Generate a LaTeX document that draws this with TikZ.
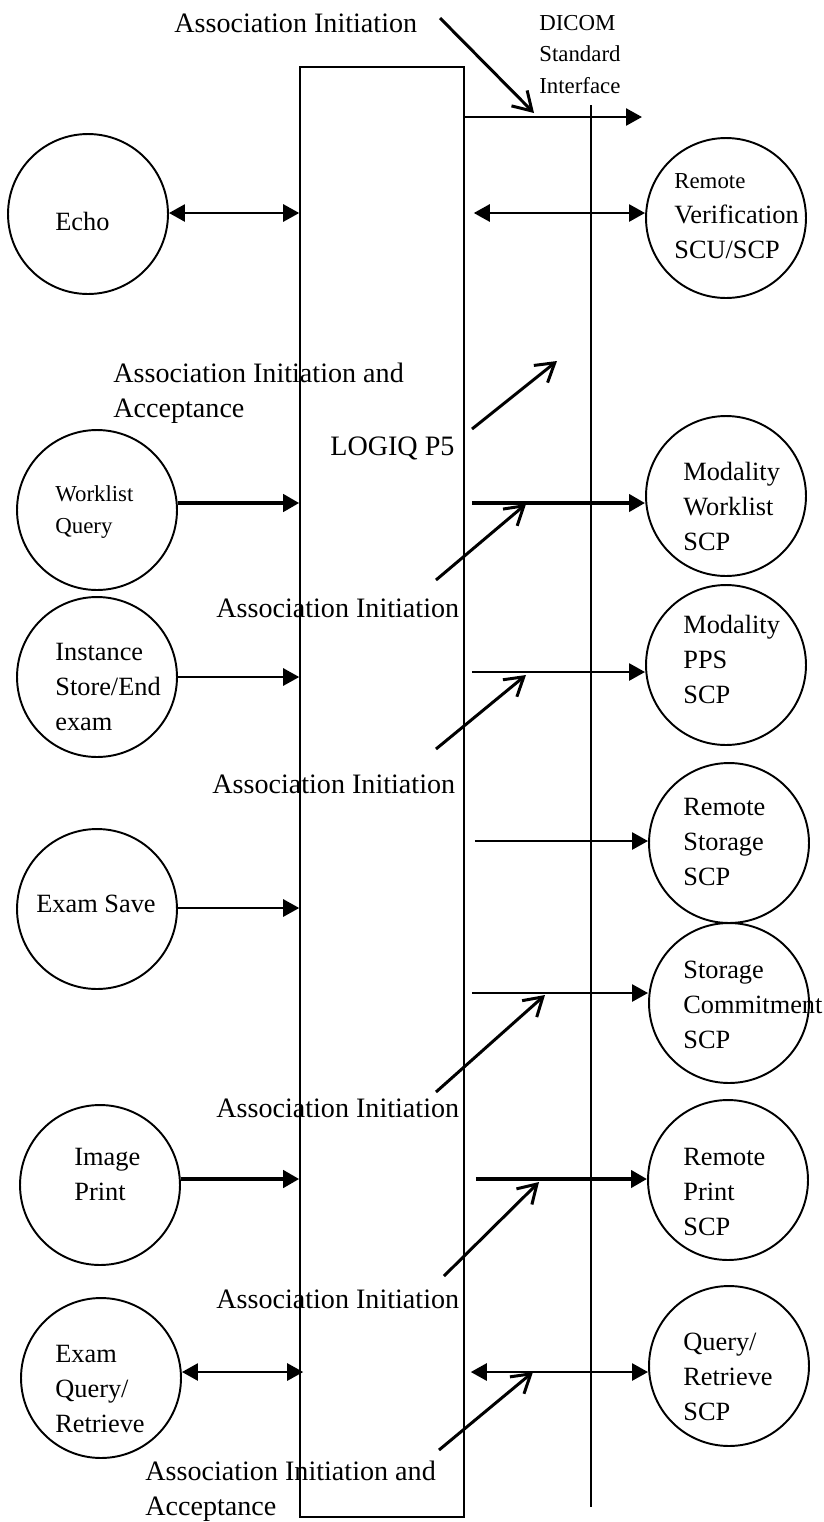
\documentclass[tikz,border=0pt]{standalone}
\usepackage{fontspec}
\setmainfont{Liberation Serif}
\usetikzlibrary{arrows.meta,calc}

\tikzset{
  svc/.style={circle, draw, line width=1.1pt, minimum size=3.2cm, inner sep=0pt},
  lbl/.style={anchor=base west, align=left, inner sep=0pt, font=\fontsize{16}{19.9}\selectfont},
  txt/.style={lbl, font=\fontsize{15}{19.9}\selectfont},
  sml/.style={lbl, font=\fontsize{13}{17.9}\selectfont},
  msg/.style={line width=1.5pt, -{Triangle[length=0.32cm,width=0.34cm]}},
  bigmsg/.style={msg, line width=2.7pt},
  dblmsg/.style={msg, {Triangle[length=0.32cm,width=0.34cm]}-{Triangle[length=0.32cm,width=0.34cm]}},
  init/.style={line width=1.7pt, -{Straight Barb[length=0.36cm,width=0.44cm]}}
}

\begin{document}
\begin{tikzpicture}[x=0.02cm, y=-0.02cm]
    \useasboundingbox (0,0) rectangle (823,1522);
    % the LOGIQ P5 box and the DICOM interface line
    \node[draw, line width=0.9pt, minimum width=3.28cm, minimum height=29cm, inner sep=0pt] (logiq) at (382,792) {};
    \coordinate (ifTop) at (591,105);
    \coordinate (ifBot) at (591,1507);
    \draw[line width=0.9pt] (ifTop) -- (ifBot);

    % labels (placed at the baseline of their last line)
    \node[lbl] (aiTop) at (174,32) {Association Initiation};
    \node[sml] (dicom) at (539,93) {DICOM\\Standard\\Interface};
    \node[lbl] (aiaWl) at (113,417) {Association Initiation and\\Acceptance};
    \node[lbl] (p5) at (330,455) {LOGIQ P5};
    \node[lbl] (aiMwl) at (216,617) {Association Initiation};
    \node[lbl] (aiPps) at (212,793) {Association Initiation};
    \node[lbl] (aiCmt) at (216,1117) {Association Initiation};
    \node[lbl] (aiPrn) at (216,1308) {Association Initiation};
    \node[lbl] (aiaQr) at (145,1515) {Association Initiation and\\Acceptance};

    % local applications
    \node[svc] (echo) at (88,214) {};
    \node[txt] at (55,230) {Echo};
    \node[svc] (wlq) at (97,510) {};
    \node[sml] at (55,533) {Worklist\\Query};
    \node[svc] (ise) at (97,677) {};
    \node[txt] at (55,730) {Instance\\Store/End\\exam};
    \node[svc] (esave) at (97,909) {};
    \node[txt] at (36,912) {Exam Save};
    \node[svc] (iprint) at (100,1185) {};
    \node[txt] at (74,1200) {Image\\Print};
    \node[svc] (eqr) at (101,1378) {};
    \node[txt] at (55,1432) {Exam\\Query/\\Retrieve};

    % remote applications
    \node[svc] (rver) at (726,218) {};
    \node[txt] at (674,258) {{\fontsize{13}{19.9}\selectfont Remote}\\Verification\\SCU/SCP};
    \node[svc] (mwl) at (726,496) {};
    \node[txt] at (683,550) {Modality\\Worklist\\SCP};
    \node[svc] (mpps) at (726,665) {};
    \node[txt] at (683,703) {Modality\\PPS\\SCP};
    \node[svc] (rsto) at (729,843) {};
    \node[txt] at (683,885) {Remote\\Storage\\SCP};
    \node[svc] (scmt) at (729,1003) {};
    \node[txt] at (683,1048) {Storage\\Commitment\\SCP};
    \node[svc] (rprint) at (728,1180) {};
    \node[txt] at (683,1235) {Remote\\Print\\SCP};
    \node[svc] (qr) at (729,1366) {};
    \node[txt] at (683,1420) {Query/\\Retrieve\\SCP};

    % rows of the messages
    \coordinate (rowTop) at (591,117);
    \coordinate (topEnd) at (642,117);
    \coordinate (rowEcho) at (591,213);
    \coordinate (rowWl) at (591,503);
    \coordinate (rowIse) at (591,677);
    \coordinate (rowPps) at (591,672);
    \coordinate (rowSto) at (591,841);
    \coordinate (rowSave) at (591,908);
    \coordinate (rowCmt) at (591,993);
    \coordinate (rowPrn) at (591,1179);
    \coordinate (rowQr) at (591,1372);

    \draw[msg] (logiq.east |- rowTop) -- (topEnd);
    \draw[dblmsg] (echo.east |- rowEcho) -- (logiq.west |- rowEcho);
    \draw[dblmsg] ($(logiq.east |- rowEcho)+(9,0)$) -- (rver.west |- rowEcho);
    \draw[bigmsg] (wlq.east |- rowWl) -- (logiq.west |- rowWl);
    \draw[bigmsg] ($(logiq.east |- rowWl)+(7,0)$) -- (mwl.west |- rowWl);
    \draw[msg] (ise.east |- rowIse) -- (logiq.west |- rowIse);
    \draw[msg] ($(logiq.east |- rowPps)+(7,0)$) -- (mpps.west |- rowPps);
    \draw[msg] ($(logiq.east |- rowSto)+(10,0)$) -- (rsto.west |- rowSto);
    \draw[msg] (esave.east |- rowSave) -- (logiq.west |- rowSave);
    \draw[msg] ($(logiq.east |- rowCmt)+(7,0)$) -- (scmt.west |- rowCmt);
    \draw[bigmsg] (iprint.east |- rowPrn) -- (logiq.west |- rowPrn);
    \draw[bigmsg] ($(logiq.east |- rowPrn)+(11,0)$) -- (rprint.west |- rowPrn);
    \draw[dblmsg] (eqr.east |- rowQr) -- ($(logiq.west |- rowQr)+(4,0)$);
    \draw[dblmsg] ($(logiq.east |- rowQr)+(6,0)$) -- (qr.west |- rowQr);

    % association initiation arrows
    \coordinate (initTopS) at (440,18);
    \coordinate (initTopE) at (534,113);
    \coordinate (initAccS) at (472,429);
    \coordinate (initAccE) at (557,361);
    \coordinate (initMwlS) at (436,580);
    \coordinate (initMwlE) at (526,504);
    \coordinate (initPpsS) at (436,749);
    \coordinate (initPpsE) at (526,675);
    \coordinate (initCmtS) at (436,1092);
    \coordinate (initCmtE) at (545,995);
    \coordinate (initPrnS) at (444,1276);
    \coordinate (initPrnE) at (539,1182);
    \coordinate (initQrS) at (439,1450);
    \coordinate (initQrE) at (533,1372);
    \draw[init] (initTopS) -- (initTopE);
    \draw[init] (initAccS) -- (initAccE);
    \draw[init] (initMwlS) -- (initMwlE);
    \draw[init] (initPpsS) -- (initPpsE);
    \draw[init] (initCmtS) -- (initCmtE);
    \draw[init] (initPrnS) -- (initPrnE);
    \draw[init] (initQrS) -- (initQrE);
\end{tikzpicture}
\end{document}
